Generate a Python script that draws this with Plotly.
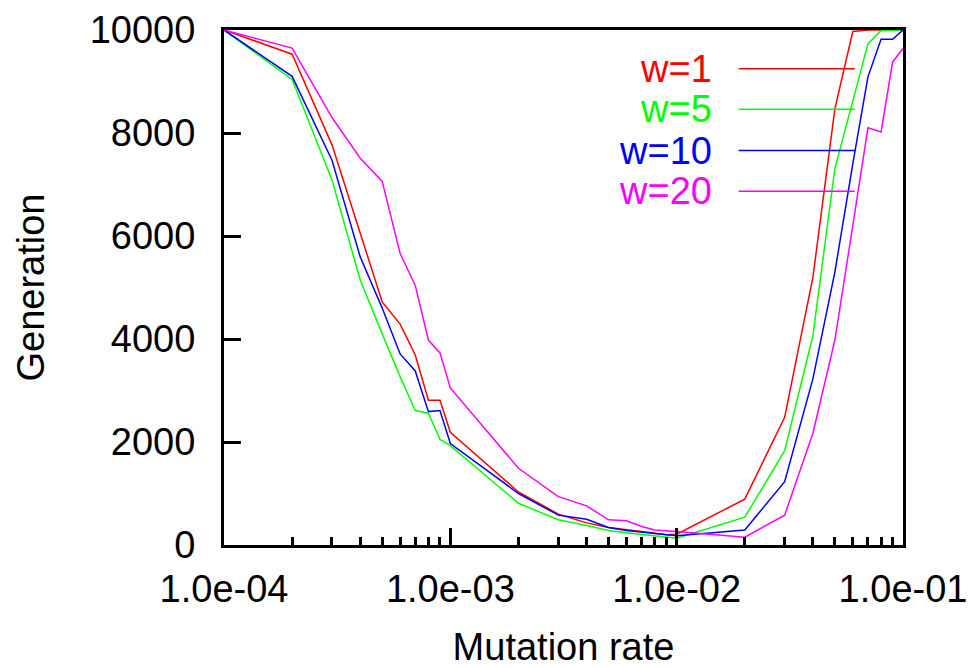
import plotly.graph_objects as go

mutation_rate = [1e-4, 2e-4, 3e-4, 4e-4, 5e-4, 6e-4, 7e-4, 8e-4, 9e-4,
                 1e-3, 2e-3, 3e-3, 4e-3, 5e-3, 6e-3, 7e-3, 8e-3, 9e-3,
                 1e-2, 2e-2, 3e-2, 4e-2, 5e-2, 6e-2, 7e-2, 8e-2, 9e-2, 1e-1]

gen_w1 = [10000, 9530, 7770, 6050, 4720, 4290, 3690, 2810, 2810,
          2190, 1030, 600, 430, 340, 290, 260, 230, 200,
          210, 890, 2480, 5200, 8470, 9970, 10000, 10000, 10000, 10000]
gen_w5 = [10000, 9040, 7090, 5140, 4100, 3270, 2610, 2560, 2050,
          1930, 810, 490, 380, 280, 240, 210, 180, 160,
          130, 540, 1830, 4070, 7310, 8620, 9730, 9990, 10000, 10000]
gen_w10 = [10000, 9100, 7470, 5590, 4600, 3710, 3380, 2590, 2610,
           1970, 1000, 580, 500, 340, 280, 250, 220, 200,
           180, 290, 1230, 3230, 5300, 7400, 9090, 9820, 9820, 10000]
gen_w20 = [10000, 9650, 8300, 7510, 7060, 5660, 5040, 3980, 3730,
           3050, 1490, 940, 760, 490, 470, 360, 290, 280,
           260, 150, 580, 2170, 3980, 6200, 8100, 8020, 9380, 9640]

series_names = ["w=1", "w=5", "w=10", "w=20"]
series_values = [gen_w1, gen_w5, gen_w10, gen_w20]
series_colors = ["#ff0000", "#00ff00", "#0000ff", "#ff00ff"]

x_tickvals = [1e-4, 1e-3, 1e-2, 1e-1]
x_ticktext = ["1.0e-04", "1.0e-03", "1.0e-02", "1.0e-01"]
y_tickvals = [0, 2000, 4000, 6000, 8000, 10000]
y_ticktext = ["0", "2000", "4000", "6000", "8000", "10000"]

FONT = "Liberation Sans, Arial, sans-serif"
FS = 38

fig = go.Figure()
for name, vals, col in zip(series_names, series_values, series_colors):
    fig.add_trace(go.Scatter(x=mutation_rate, y=vals, mode="lines", name=name,
                             line=dict(color=col, width=1.5), showlegend=False))

# gnuplot-style key: right-aligned text followed by line sample
key_y = [0.925, 0.846, 0.766, 0.687]
for name, col, ky in zip(series_names, series_colors, key_y):
    fig.add_annotation(xref="paper", yref="paper", x=0.722, y=ky, text=name,
                       showarrow=False, xanchor="right", yanchor="middle",
                       font=dict(family=FONT, size=FS, color=col))
    fig.add_shape(type="line", xref="paper", yref="paper", x0=0.758, x1=0.929,
                  y0=ky, y1=ky, line=dict(color=col, width=1.5))

fig.update_layout(
    width=974, height=668,
    margin=dict(l=224, r=71, t=30, b=123),
    paper_bgcolor="white", plot_bgcolor="white",
    font=dict(family=FONT, size=FS, color="black"),
    xaxis=dict(type="log", range=[-4, -1], tickvals=x_tickvals, ticktext=x_ticktext,
               ticks="inside", ticklen=17, tickwidth=3, tickcolor="black",
               showline=True, linewidth=3, linecolor="black", mirror=True,
               showgrid=False, zeroline=False, ticklabelstandoff=8, automargin=False,
               minor=dict(ticks="inside", ticklen=8, tickwidth=3, tickcolor="black",
                          dtick="D1", showgrid=False),
               title=dict(text="Mutation rate", standoff=25,
                          font=dict(family=FONT, size=FS))),
    yaxis=dict(range=[0, 10000], tickvals=y_tickvals, ticktext=y_ticktext,
               ticks="inside", ticklen=17, tickwidth=3, tickcolor="black",
               showline=True, linewidth=3, linecolor="black", mirror=True,
               showgrid=False, zeroline=False, ticklabelstandoff=18, automargin=False,
               title=dict(text="Generation", standoff=34,
                          font=dict(family=FONT, size=FS))),
)

fig.write_html("out.html")
